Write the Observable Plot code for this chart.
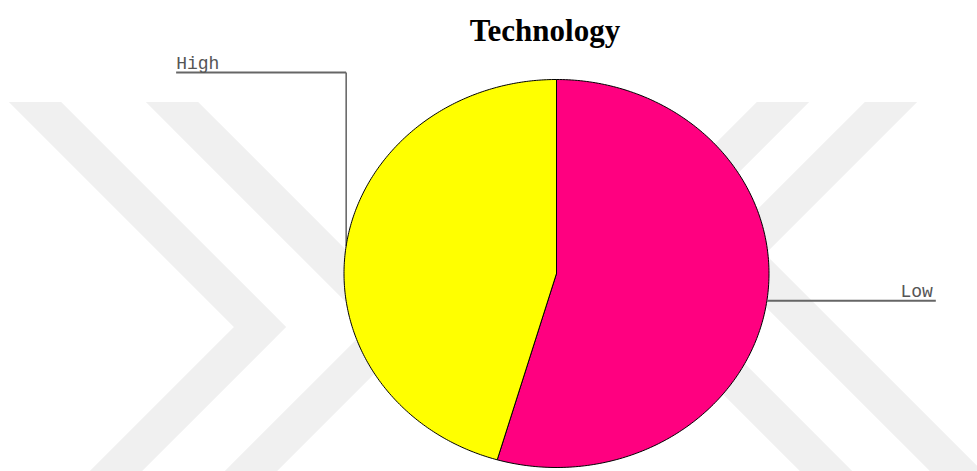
<!DOCTYPE html>
<html>
<head>
<meta charset="utf-8">
<script src="https://cdn.jsdelivr.net/npm/d3@7"></script>
<script src="https://cdn.jsdelivr.net/npm/@observablehq/plot@0.6"></script>
<style>
  html, body { margin: 0; padding: 0; background: #ffffff; }
  #wrap { position: relative; width: 977px; height: 471px; overflow: hidden; }
  #wm { position: absolute; left: 0; top: 0; }
  #chart { position: absolute; left: 0; top: 0; }
  #title {
    position: absolute; top: 15px; left: 545px; transform: translateX(-50%);
    font-family: "Liberation Serif", "Times New Roman", serif; font-weight: bold;
    font-size: 31px; line-height: 31px; color: #000; white-space: nowrap;
  }
</style>
</head>
<body>
<div id="wrap">
  <svg id="wm" width="977" height="471" viewBox="0 0 977 471">
    <defs><clipPath id="wmclip"><rect x="0" y="102" width="977" height="369"/></clipPath></defs>
    <g clip-path="url(#wmclip)" fill="none" stroke="#f0f0f0" stroke-width="37" stroke-linejoin="miter" stroke-miterlimit="10">
      <polyline points="-7,60 260,327 67,520"/>
      <polyline points="130,60 396,326 202,520"/>
      <polyline points="933,60 739,254 1005,520"/>
      <polyline points="825,60 620,265 875,520"/>
    </g>
  </svg>
  <div id="chart"></div>
  <div id="title">Technology</div>
</div>
<script>
// ---- data ----
const categories = ["Low", "High"];
const values = [54.5, 45.5];
const sliceColors = ["#ff0080", "#ffff00"];
const chartTitle = "Technology";

// ---- layout (pixels / unit-circle space) ----
const W = 977, H = 471;
const cx = 556, cy = 273, rx = 212.5, ry = 194;
const highElbowY = 1.036;     // unit y of the High label line (above the pie)
const highLabelX = -1.79;     // unit x where the High label line ends
const lowLabelX = 1.785;      // unit x where the Low label line ends

const pie = d3.pie().sort(null).value(d => d.value).startAngle(0).endAngle(2 * Math.PI);
const rows = categories.map((c, i) => ({cat: c, value: values[i]}));
const arcs = pie(rows);

// polygon points for each slice in unit-circle coordinates (angle clockwise from 12 o'clock)
const slicePts = [];
for (const a of arcs) {
  const cat = a.data.cat;
  slicePts.push({cat, x: 0, y: 0});
  const n = 240;
  for (let k = 0; k <= n; k++) {
    const t = a.startAngle + (a.endAngle - a.startAngle) * k / n;
    slicePts.push({cat, x: Math.sin(t), y: Math.cos(t)});
  }
  slicePts.push({cat, x: 0, y: 0});
}

// leader segments from each slice's mid-arc
const segs = [];
const labels = [];
for (const a of arcs) {
  const m = (a.startAngle + a.endAngle) / 2;
  const mx = Math.sin(m), my = Math.cos(m);
  if (a.data.cat === "High") {
    segs.push({x1: mx, y1: my, x2: mx, y2: highElbowY, w: 1});
    segs.push({x1: mx, y1: highElbowY, x2: highLabelX, y2: highElbowY, w: 2});
    labels.push({cat: "High", x: highLabelX, y: highElbowY, anchor: "start"});
  } else {
    segs.push({x1: mx, y1: my, x2: lowLabelX, y2: my, w: 2});
    labels.push({cat: "Low", x: lowLabelX, y: my, anchor: "end"});
  }
}

const labelFont = "Liberation Mono, Courier New, monospace";
const chart = Plot.plot({
  width: W, height: H,
  margin: 0,
  style: {background: "transparent", overflow: "visible"},
  x: {domain: [-1, 1], range: [cx - rx, cx + rx], axis: null},
  y: {domain: [-1, 1], range: [cy + ry, cy - ry], axis: null},
  color: {type: "ordinal", domain: categories, range: sliceColors},
  marks: [
    Plot.line(slicePts, {x: "x", y: "y", z: "cat", fill: "cat", stroke: "#000", strokeWidth: 1, curve: "linear"}),
    Plot.link(segs.filter(d => d.w === 1), {x1: "x1", y1: "y1", x2: "x2", y2: "y2", stroke: "#111", strokeWidth: 1}),
    Plot.link(segs.filter(d => d.w === 2), {x1: "x1", y1: "y1", x2: "x2", y2: "y2", stroke: "#666", strokeWidth: 2}),
    Plot.text(labels.filter(d => d.anchor === "start"), {
      x: "x", y: "y", text: "cat", textAnchor: "start", lineAnchor: "bottom", dy: -4,
      fontFamily: labelFont, fontSize: 18, fill: "#555"
    }),
    Plot.text(labels.filter(d => d.anchor === "end"), {
      x: "x", y: "y", text: "cat", textAnchor: "end", lineAnchor: "bottom", dy: -4, dx: -3,
      fontFamily: labelFont, fontSize: 18, fill: "#555"
    })
  ]
});
document.getElementById("chart").appendChild(chart);
document.getElementById("title").textContent = chartTitle;
</script>
</body>
</html>
